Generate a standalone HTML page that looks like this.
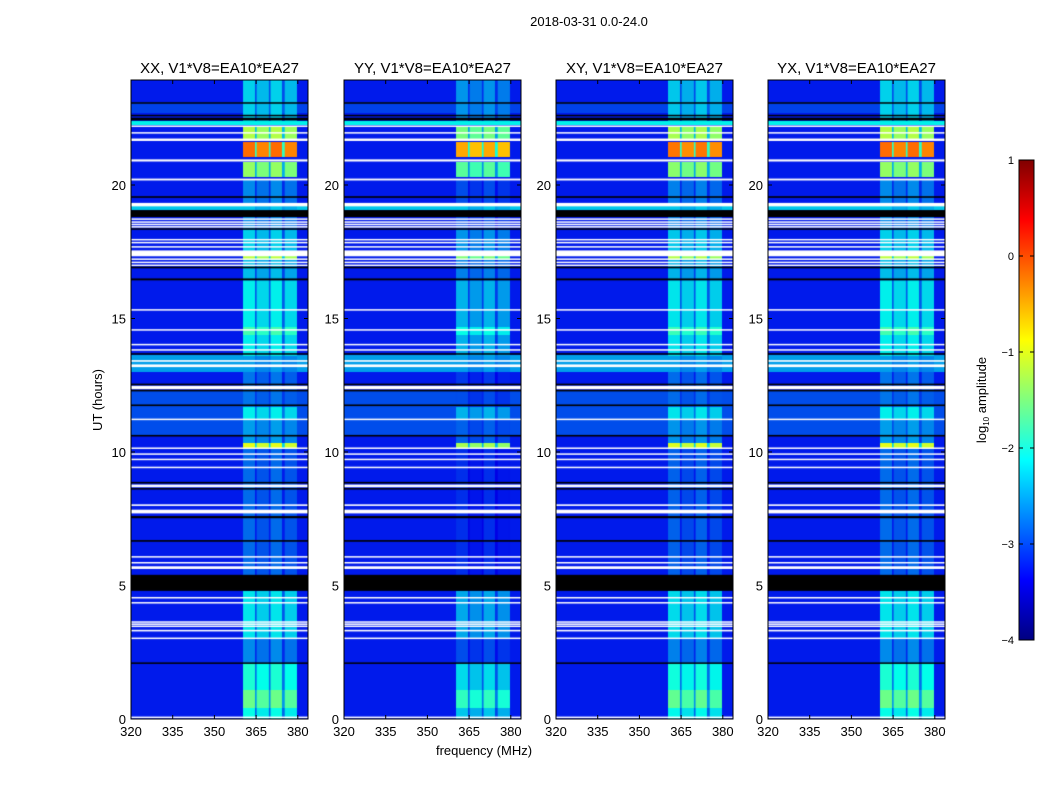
<!DOCTYPE html>
<html><head><meta charset="utf-8">
<style>
body{margin:0;background:#fff;font-family:"Liberation Sans","DejaVu Sans",sans-serif;}
#wrap{position:relative;width:1050px;height:800px;overflow:hidden;background:#fff}
canvas{position:absolute}
.t{position:absolute;color:#000;white-space:nowrap}
</style></head><body>
<div id="wrap">
<div class="t" style="left:489px;top:14px;width:200px;text-align:center;font-size:13px">2018-03-31 0.0-24.0</div>
<svg id="svg" width="1050" height="800" style="position:absolute;left:0;top:0"></svg>
</div>
<script>
// ---- data ----
const panelTitles = ["XX, V1*V8=EA10*EA27","YY, V1*V8=EA10*EA27","XY, V1*V8=EA10*EA27","YX, V1*V8=EA10*EA27"];
const panelRfiOffset = [0, -0.3, -0.05, 0.0];
const xTicks = [320,335,350,365,380];
const yTicks = [0,5,10,15,20];
const cbTicks = [1,0,-1,-2,-3,-4];
const baseLevel = -3.25;
// brighter background rows [t0,t1,level]
const bgSegments = [[13.0,13.65,-2.6],[22.25,22.4,-2.2],[19.05,19.2,-2.4],[10.6,12.3,-3.0],[22.7,23.1,-3.05]];
// sub-band edges in MHz [f0,f1]
const subBands = [[360.3,364.6],[365.2,369.6],[370.2,374.3],[375.3,379.7]];
// RFI level inside sub-bands by UT [t0,t1,level]
const rfiSegments = [
 [0,0.4,-2.1],[0.4,1.1,-1.6],[1.1,2.1,-2.0],[2.1,3.0,-2.7],[3.0,4.8,-2.25],
 [5.4,7.5,-2.85],[7.5,10.1,-2.85],[10.15,10.35,-1.0],[10.35,11.2,-2.6],[11.2,11.7,-2.2],[11.7,13.0,-2.8],
 [13.0,13.6,-2.6],[13.6,16.4,-2.2],[14.4,14.7,-1.8],[16.4,17.2,-2.45],[17.2,17.45,-1.2],[17.45,18.3,-2.35],
 [18.3,20.2,-2.7],[20.3,20.85,-1.4],[21.05,21.6,-0.15],[21.7,22.2,-1.25],[22.4,24,-2.35]
];
// flagged rows drawn white [t0,t1]
const whiteLines = [[0.03,0.09],[3.0,3.05],[3.28,3.34],[3.45,3.5],[3.54,3.58],[3.62,3.66],[4.33,4.38],[4.52,4.57],
 [5.62,5.72],[5.83,5.88],[6.05,6.1],[7.7,7.84],[7.98,8.04],[8.68,8.78],[9.4,9.45],[9.7,9.75],[9.9,9.95],[10.12,10.17],
 [11.2,11.25],[12.35,12.48],[13.18,13.28],[13.38,13.44],[13.8,13.85],[14.0,14.05],[14.55,14.6],[15.3,15.35],
 [16.97,17.02],[17.08,17.13],[17.2,17.25],[17.33,17.55],[17.66,17.71],[17.82,17.87],[17.93,17.98],[18.42,18.46],
 [18.5,18.55],[18.6,18.64],[18.7,18.75],[19.2,19.33],[20.17,20.24],[20.88,20.96],[21.65,21.74],[21.93,21.98],[22.18,22.23]];
// flagged rows drawn black [t0,t1]
const blackLines = [[2.08,2.12],[4.8,5.4],[6.64,6.7],[7.52,7.6],[8.6,8.65],[8.82,8.88],[10.58,10.64],[11.72,11.78],
 [12.27,12.33],[12.5,12.56],[13.65,13.7],[16.43,16.5],[16.88,16.94],[18.33,18.38],[18.8,19.06],[19.52,19.58],
 [22.42,22.52],[22.58,22.63],[23.05,23.1]];

// ---- geometry ----
const panelLefts=[131,344,556,768], PW=177, PT=80, PB=719;
const fMin=320, pxPerMHz=41.7/15, tPx=26.7;
const xScale=f=>(f-fMin)*pxPerMHz;
const yScale=t=>PB-t*tPx;
function jet(v){let t=Math.max(0,Math.min(1,(v+4)/5));const c=x=>Math.round(255*Math.max(0,Math.min(1,x)));
 return `rgb(${c(1.5-Math.abs(4*t-3))},${c(1.5-Math.abs(4*t-2))},${Math.round(c(1.5-Math.abs(4*t-1))*0.92)})`;}
const NS="http://www.w3.org/2000/svg";
const svg=document.getElementById('svg');
function mk(tag,attrs,parent){const e=document.createElementNS(NS,tag);for(const k in attrs)e.setAttribute(k,attrs[k]);(parent||svg).appendChild(e);return e;}
const wrap=document.getElementById('wrap');

panelLefts.forEach((L,pi)=>{
 const cv=document.createElement('canvas');cv.width=PW;cv.height=PB-PT;
 cv.style.left=L+'px';cv.style.top=PT+'px';
 
 
 wrap.insertBefore(cv,svg);
 const ctx=cv.getContext('2d');
 const H=PB-PT;
 for(let y=0;y<H;y++){
  const t=(PB-(PT+y+0.5))/tPx;
  let bg=baseLevel;bgSegments.forEach(s=>{if(t>=s[0]&&t<s[1])bg=Math.max(bg,s[2]);});
  ctx.fillStyle=jet(bg);ctx.fillRect(0,y,PW,1);
  let r=null;rfiSegments.forEach(s=>{if(t>=s[0]&&t<s[1])r=(r===null?s[2]:Math.max(r,s[2]));});
  if(r!==null){
   const lv=Math.max(bg,r+panelRfiOffset[pi]);
   ctx.fillStyle=jet((lv+bg)/2-0.2);
   ctx.fillRect(xScale(subBands[0][0]),y,xScale(subBands[3][1])-xScale(subBands[0][0]),1);
   subBands.forEach((b,bi)=>{ctx.fillStyle=jet(lv-(bi%2)*0.12);ctx.fillRect(xScale(b[0]),y,xScale(b[1])-xScale(b[0]),1);});
  }
 }
 whiteLines.forEach(w=>{ctx.fillStyle='#fff';const y0=yScale(w[1])-PT,y1=yScale(w[0])-PT;ctx.fillRect(0,y0,PW,Math.max(1.5,y1-y0));});
 blackLines.forEach(w=>{ctx.fillStyle='#000';const y0=yScale(w[1])-PT,y1=yScale(w[0])-PT;ctx.fillRect(0,y0,PW,Math.max(1.5,y1-y0));});

 const g=mk('g',{});
 mk('rect',{x:L,y:PT,width:PW,height:PB-PT,fill:'none',stroke:'#000','stroke-width':1,},g);
 const ti=mk('text',{x:L+PW/2,y:PT-7,'text-anchor':'middle','font-size':15,'font-family':'Liberation Sans, sans-serif',},g);ti.textContent=panelTitles[pi];
 xTicks.forEach(v=>{const x=L+xScale(v);
  mk('line',{x1:x,x2:x,y1:PB,y2:PB-4,stroke:'#000',},g);
  mk('line',{x1:x,x2:x,y1:PT,y2:PT+4,stroke:'#000',},g);
  const tx=mk('text',{x:x,y:PB+17,'text-anchor':'middle','font-size':13,'font-family':'Liberation Sans, sans-serif',},g);tx.textContent=v;});
 yTicks.forEach(v=>{const y=yScale(v);
  mk('line',{x1:L,x2:L+4,y1:y,y2:y,stroke:'#000',},g);
  mk('line',{x1:L+PW,x2:L+PW-4,y1:y,y2:y,stroke:'#000',},g);
  const tx=mk('text',{x:L-5,y:y+5,'text-anchor':'end','font-size':13,'font-family':'Liberation Sans, sans-serif',},g);tx.textContent=v;});
});
const yl=mk('text',{x:0,y:0,transform:'translate(102,400) rotate(-90)','text-anchor':'middle','font-size':13,'font-family':'Liberation Sans, sans-serif',});yl.textContent='UT (hours)';
const xl=mk('text',{x:484,y:755,'text-anchor':'middle','font-size':13,'font-family':'Liberation Sans, sans-serif',});xl.textContent='frequency (MHz)';

// colorbar
const defs=mk('defs',{});
const lg=mk('linearGradient',{id:'jet',x1:0,y1:1,x2:0,y2:0},defs);
[[0,'#000080'],[0.125,'#0000ff'],[0.375,'#00ffff'],[0.625,'#ffff00'],[0.875,'#ff0000'],[1,'#800000']].forEach(s=>mk('stop',{offset:s[0],'stop-color':s[1]},lg));
const CBX=1019,CBW=15,CBT=160,CBB=640;
const cbY=v=>CBB-(v+4)/5*(CBB-CBT);
const cb=mk('g',{});
mk('rect',{x:CBX,y:CBT,width:CBW,height:CBB-CBT,fill:'url(#jet)',stroke:'#000','stroke-width':1,},cb);
cbTicks.forEach(v=>{const y=cbY(v);
 mk('line',{x1:CBX,x2:CBX+4,y1:y,y2:y,stroke:'#000',},cb);
 mk('line',{x1:CBX+CBW,x2:CBX+CBW-4,y1:y,y2:y,stroke:'#000',},cb);
 const tx=mk('text',{x:CBX-5,y:y+4,'text-anchor':'end','font-size':11,'font-family':'Liberation Sans, sans-serif',},cb);tx.textContent=(v<0?'\u2212'+(-v):v);});
const cl=mk('text',{x:0,y:0,transform:'translate(986,400) rotate(-90)','text-anchor':'middle','font-size':13,'font-family':'Liberation Sans, sans-serif',},cb);
cl.innerHTML='log<tspan font-size="8" dy="3">10</tspan><tspan dy="-3"> amplitude</tspan>';
</script>
</body></html>
